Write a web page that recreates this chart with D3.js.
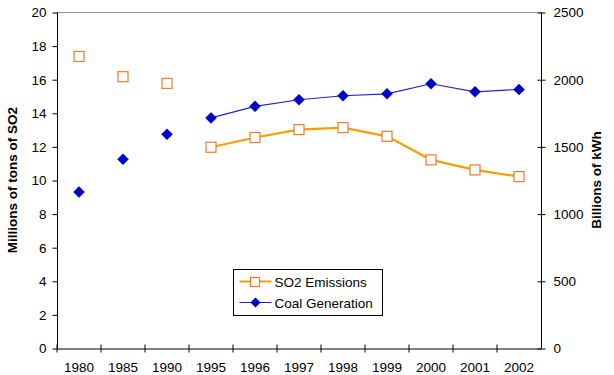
<!DOCTYPE html>
<html>
<head>
<meta charset="utf-8">
<script src="https://cdn.jsdelivr.net/npm/d3@7"></script>
<style>
  body { margin: 0; background: #fff; }
  text { font-family: "Liberation Sans", Arial, sans-serif; fill: #000; }
</style>
</head>
<body>
<svg id="chart" width="614" height="375"></svg>
<script>
// categories and series
var years = ["1980", "1985", "1990", "1995", "1996", "1997", "1998", "1999", "2000", "2001", "2002"];
var so2 = [17.35, 16.15, 15.75, 11.95, 12.53, 13.0, 13.12, 12.6, 11.2, 10.6, 10.2];        // millions of tons
var coal = [1160, 1405, 1590, 1712, 1798, 1847, 1877, 1891, 1966, 1906, 1924];              // billions of kWh
var leftTicks = [0, 2, 4, 6, 8, 10, 12, 14, 16, 18, 20];
var rightTicks = [0, 500, 1000, 1500, 2000, 2500];
var lineFrom = "1995"; // lines only join the annual points

var svg = d3.select('#chart');
var margin = { left: 57, right: 73, top: 12, bottom: 27 };
var W = 614, H = 375;
var x0 = margin.left, x1 = W - margin.right, y0 = H - margin.bottom, y1 = margin.top;

var x = d3.scaleBand().domain(years).range([x0, x1]);
var yL = d3.scaleLinear().domain([0, 20]).range([y0, y1]);
var yR = d3.scaleLinear().domain([0, 2500]).range([y0, y1]);
var cx = function (yr) { return x(yr) + x.bandwidth() / 2; };

// top border of the plot area
svg.append('line')
    .attr('x1', x0).attr('x2', x1).attr('y1', y1 + 0.5).attr('y2', y1 + 0.5)
    .style('stroke', '#999').style('stroke-width', 1);

// left axis
var gl = svg.append('g').attr('transform', 'translate(' + (x0 + 0.5) + ',0.5)')
    .call(d3.axisLeft(yL).tickValues(leftTicks).tickSize(5).tickPadding(6));
// right axis
var gr = svg.append('g').attr('transform', 'translate(' + (x1 + 0.5) + ',0.5)')
    .call(d3.axisRight(yR).tickValues(rightTicks).tickFormat(d3.format('d')).tickSize(4).tickPadding(8));
gr.selectAll('.tick line').attr('x1', -4);
// category axis, ticks between categories
var gx = svg.append('g').attr('transform', 'translate(0,' + (y0 + 0.5) + ')')
    .call(d3.axisBottom(x).tickSize(0).tickPadding(14));
gx.selectAll('.tick').each(function (d) {
    d3.select(this).append('line')
        .attr('x1', -x.bandwidth() / 2).attr('x2', -x.bandwidth() / 2)
        .attr('y1', -4).attr('y2', 4).style('stroke', '#000');
});
[gl, gr, gx].forEach(function (g) {
    g.select('.domain').style('stroke', '#000');
    g.selectAll('.tick line').style('stroke', '#000');
    g.selectAll('text').style('font-size', '13.5px').style('font-family', '"Liberation Sans", Arial, sans-serif');
});
gl.select('.domain').attr('d', 'M0,' + y0 + 'V' + y1);
gr.select('.domain').attr('d', 'M0,' + y0 + 'V' + y1);

// axis titles
svg.append('text')
    .attr('transform', 'translate(17,' + ((y0 + y1) / 2) + ') rotate(-90)')
    .attr('text-anchor', 'middle')
    .style('font-size', '13.5px').style('font-weight', 'bold')
    .text('Millions of tons of SO2');
svg.append('text')
    .attr('transform', 'translate(601,' + ((y0 + y1) / 2) + ') rotate(-90)')
    .attr('text-anchor', 'middle')
    .style('font-size', '13.5px').style('font-weight', 'bold')
    .text('Billions of kWh');

var so2Data = years.map(function (yr, i) { return { year: yr, v: so2[i] }; });
var coalData = years.map(function (yr, i) { return { year: yr, v: coal[i] }; });
var joined = function (d) { return +d.year >= +lineFrom; };

var diamondPath = function (s) {
    return 'M0,' + (-s) + 'L' + s + ',0L0,' + s + 'L' + (-s) + ',0Z';
};

// coal generation
svg.append('path')
    .datum(coalData.filter(joined))
    .attr('d', d3.line().x(function (d) { return cx(d.year); }).y(function (d) { return yR(d.v); }))
    .style('fill', 'none').style('stroke', '#2222cc').style('stroke-width', 1.2);
svg.selectAll('path.coal')
    .data(coalData)
    .enter().append('path')
    .attr('class', 'coal')
    .attr('transform', function (d) { return 'translate(' + cx(d.year) + ',' + yR(d.v) + ')'; })
    .attr('d', diamondPath(5.5))
    .style('fill', '#0000cc').style('stroke', '#0000aa').style('stroke-width', 0.5);

// SO2 emissions
svg.append('path')
    .datum(so2Data.filter(joined))
    .attr('d', d3.line().x(function (d) { return cx(d.year); }).y(function (d) { return yL(d.v); }))
    .style('fill', 'none').style('stroke', '#f5a000').style('stroke-width', 2.2);
svg.selectAll('rect.so2')
    .data(so2Data)
    .enter().append('rect')
    .attr('class', 'so2')
    .attr('x', function (d) { return cx(d.year) - 5; })
    .attr('y', function (d) { return yL(d.v) - 5; })
    .attr('width', 10).attr('height', 10)
    .style('fill', '#fff').style('stroke', '#f07a30').style('stroke-width', 1.2);

// legend
var lg = svg.append('g').attr('transform', 'translate(233.5,269.5)');
lg.append('rect').attr('width', 149).attr('height', 46)
    .style('fill', '#fff').style('stroke', '#000').style('stroke-width', 1);
var items = [
    { label: 'SO2 Emissions', key: 'so2' },
    { label: 'Coal Generation', key: 'coal' }
];
items.forEach(function (it, i) {
    var row = lg.append('g').attr('transform', 'translate(0,' + (12 + i * 21) + ')');
    if (it.key === 'so2') {
        row.append('line').attr('x1', 6).attr('x2', 38).style('stroke', '#f5a000').style('stroke-width', 2.2);
        row.append('rect').attr('x', 17).attr('y', -4).attr('width', 9).attr('height', 9)
            .style('fill', '#fff').style('stroke', '#f07a30').style('stroke-width', 1.2);
    } else {
        row.append('line').attr('x1', 6).attr('x2', 38).style('stroke', '#2222cc').style('stroke-width', 1.2);
        row.append('path').attr('transform', 'translate(22,0)').attr('d', diamondPath(5))
            .style('fill', '#0000cc');
    }
    row.append('text').attr('x', 41).attr('y', 5).style('font-size', '13.5px').text(it.label);
});
</script>
</body>
</html>
